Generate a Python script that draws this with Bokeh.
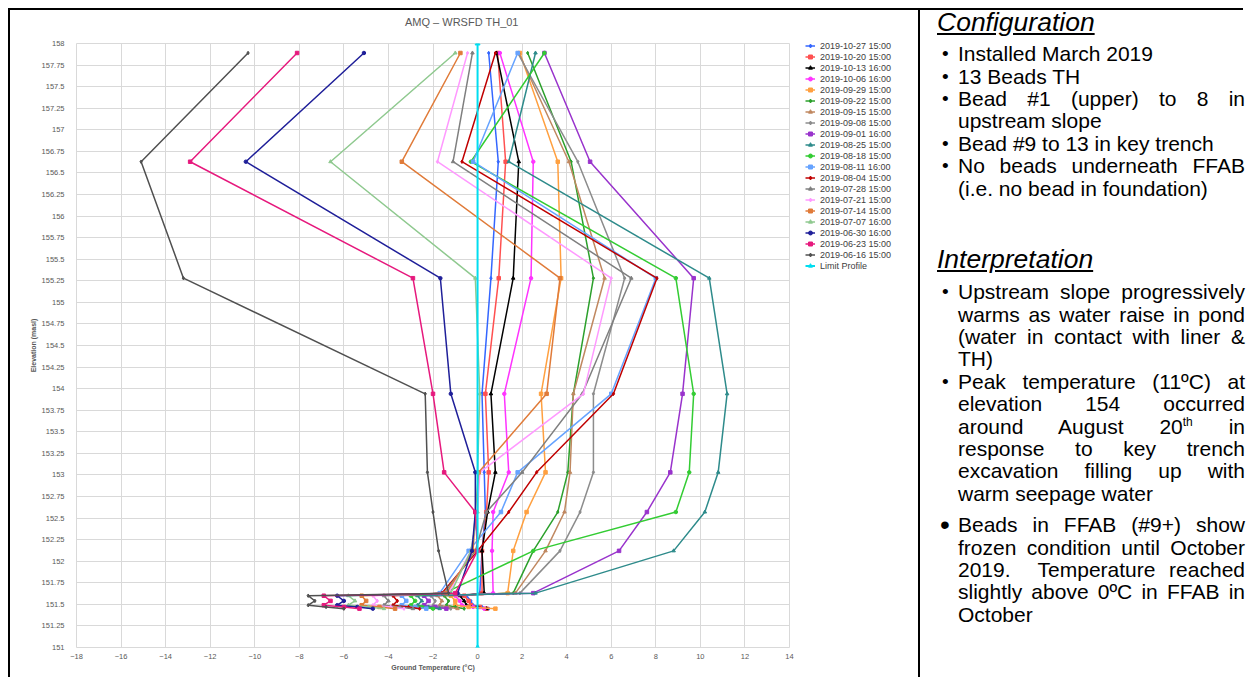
from bokeh.plotting import figure
from bokeh.models import Legend, LegendItem, FixedTicker, Div, Range1d
from bokeh.layouts import row, column
from bokeh.embed import file_html
from bokeh.resources import INLINE

# ---------------- data ----------------
chart_title = "AMQ \u2013 WRSFD TH_01"

# bead elevations (masl), bead #1 (upper) to #13
bead_elev = [157.89, 156.63, 155.28, 153.94, 153.03, 152.57, 152.12,
             151.63, 151.60, 151.54, 151.49, 151.47, 151.45]

series_labels = [
    "2019-10-27 15:00", "2019-10-20 15:00", "2019-10-13 16:00", "2019-10-06 16:00",
    "2019-09-29 15:00", "2019-09-22 15:00", "2019-09-15 15:00", "2019-09-08 15:00",
    "2019-09-01 16:00", "2019-08-25 15:00", "2019-08-18 15:00", "2019-08-11 16:00",
    "2019-08-04 15:00", "2019-07-28 15:00", "2019-07-21 15:00", "2019-07-14 15:00",
    "2019-07-07 16:00", "2019-06-30 16:00", "2019-06-23 15:00", "2019-06-16 15:00",
]

t_2019_10_27 = [0.5, 0.93, 0.6, 0.2, 0.3, 0.35, 0.2, 0.1, -0.5, -0.3, -0.2, 0.2, 0.5]
t_2019_10_20 = [0.9, 1.26, 0.95, 0.35, 0.5, 0.4, 0.2, 0.2, -0.6, -0.4, -0.3, 0.1, 0.4]
t_2019_10_13 = [0.85, 1.85, 1.6, 0.6, 0.8, 0.45, 0.2, 0.3, -0.8, -0.6, -0.5, 0.0, 0.4]
t_2019_10_06 = [1.0, 2.5, 2.4, 1.2, 1.4, 0.7, 0.65, 0.7, -1.0, -0.8, -0.7, -0.2, 0.3]
t_2019_09_29 = [1.9, 3.6, 3.75, 2.85, 3.05, 2.2, 1.6, 1.35, -1.2, -1.0, -1.0, -0.4, 0.8]
t_2019_09_22 = [2.25, 4.2, 5.2, 4.3, 4.05, 3.6, 2.5, 1.6, -1.5, -1.3, -1.4, -1.0, -0.6]
t_2019_09_15 = [1.85, 4.1, 5.7, 4.3, 4.15, 3.9, 3.05, 1.7, -1.8, -1.6, -1.7, -1.3, -0.9]
t_2019_09_08 = [1.8, 4.5, 6.6, 5.2, 5.2, 4.6, 3.7, 1.9, -2.1, -1.9, -2.0, -1.6, -1.2]
t_2019_09_01 = [3.0, 5.05, 9.7, 9.2, 8.65, 7.6, 6.35, 2.5, -2.4, -2.2, -2.4, -1.9, -1.4]
t_2019_08_25 = [2.6, 1.4, 10.4, 11.2, 10.8, 10.2, 8.8, 2.6, -2.7, -2.5, -2.7, -2.2, -1.7]
t_2019_08_18 = [3.0, -0.3, 8.9, 9.7, 9.5, 8.9, 2.5, -1.5, -3.0, -2.8, -3.0, -2.5, -2.0]
t_2019_08_11 = [1.8, -0.2, 8.0, 6.0, 1.8, 1.05, -0.4, -1.7, -3.4, -3.2, -3.4, -2.8, -2.3]
t_2019_08_04 = [0.8, -0.7, 8.05, 6.1, 2.65, 1.4, 0.0, -1.6, -3.8, -3.6, -3.8, -3.1, -2.6]
t_2019_07_28 = [-0.23, -1.1, 6.9, 4.7, 2.0, 0.4, -0.1, -1.5, -4.2, -4.0, -4.2, -3.5, -2.9]
t_2019_07_21 = [-0.45, -1.8, 6.0, 4.75, 0.1, 0.0, -0.3, -1.3, -4.7, -4.5, -4.7, -3.9, -3.3]
t_2019_07_14 = [-0.77, -3.4, 3.7, 3.1, 0.05, -0.1, -0.2, -1.4, -5.2, -5.0, -5.2, -4.4, -3.7]
t_2019_07_07 = [-1.0, -6.6, -0.1, 0.1, 0.0, 0.0, -0.3, -1.2, -5.8, -5.5, -5.8, -4.9, -4.2]
t_2019_06_30 = [-5.1, -10.4, -1.67, -1.2, -0.1, -0.1, -0.25, -0.9, -6.3, -6.0, -6.3, -5.4, -4.7]
t_2019_06_23 = [-8.1, -12.9, -2.9, -2.0, -1.5, -0.1, 0.0, -1.0, -6.9, -6.6, -6.9, -6.0, -5.3]
t_2019_06_16 = [-10.3, -15.1, -13.2, -2.35, -2.25, -2.0, -1.75, -1.3, -7.6, -7.3, -7.6, -6.8, -6.0]

series_values = [
    t_2019_10_27, t_2019_10_20, t_2019_10_13, t_2019_10_06, t_2019_09_29,
    t_2019_09_22, t_2019_09_15, t_2019_09_08, t_2019_09_01, t_2019_08_25,
    t_2019_08_18, t_2019_08_11, t_2019_08_04, t_2019_07_28, t_2019_07_21,
    t_2019_07_14, t_2019_07_07, t_2019_06_30, t_2019_06_23, t_2019_06_16,
]

limit_label = "Limit Profile"
limit_temp = [0, 0]
limit_elev = [158, 151]

x_ticks = list(range(-18, 15, 2))
y_ticks = [151 + 0.25 * i for i in range(29)]

# ---------------- styles ----------------
series_colors = [
    "#3366FF", "#FF5050", "#000000", "#FF33FF", "#FFA040",
    "#2CA02C", "#C08860", "#8C8C8C", "#9933CC", "#2E8B8B",
    "#33CC33", "#66A3FF", "#C00000", "#7F7F7F", "#FF99FF",
    "#E07B39", "#8FC98F", "#1F1F99", "#E6197D", "#505050",
]
markers = ["diamond", "square", "triangle", "circle", "square", "diamond", "triangle"]
limit_color = "#00DDF0"
FONT = "Liberation Sans"
TXT = "#595959"

p = figure(width=786, height=647, x_range=(-18, 14), y_range=(151, 158),
           title=None, output_backend="svg", toolbar_location=None,
           min_border_left=66, min_border_right=7, min_border_top=13,
           min_border_bottom=30)
p.background_fill_color = "white"
p.border_fill_color = "white"
p.outline_line_color = "#D9D9D9"

p.xaxis.ticker = FixedTicker(ticks=x_ticks)
p.yaxis.ticker = FixedTicker(ticks=y_ticks)
p.yaxis.major_label_overrides = {t: f"{t:g}" for t in y_ticks}
p.xgrid.ticker = FixedTicker(ticks=x_ticks)
p.ygrid.ticker = FixedTicker(ticks=y_ticks)
p.grid.grid_line_color = "#D9D9D9"
p.grid.grid_line_width = 1

for ax in (p.xaxis, p.yaxis):
    ax.axis_line_color = None
    ax.major_tick_line_color = None
    ax.minor_tick_line_color = None
    ax.major_label_text_font = FONT
    ax.major_label_text_font_size = "7.5px"
    ax.major_label_text_color = TXT
    ax.axis_label_text_font = FONT
    ax.axis_label_text_font_size = "7px"
    ax.axis_label_text_font_style = "bold"
    ax.axis_label_text_color = TXT
p.xaxis.major_label_standoff = 0
p.yaxis.major_label_standoff = 6
p.xaxis.axis_label = "Ground Temperature (\u00b0C)"
p.yaxis.axis_label = "Elevation (masl)"
p.xaxis.axis_label_standoff = 2
p.yaxis.axis_label_standoff = 2

# chart title, above the plot area
title_div = Div(text=(f'<div style="font-family:\'Liberation Sans\',Arial,sans-serif;'
                      f'font-size:11px;color:{TXT};padding-left:395px;padding-top:2px;'
                      f'height:20px;line-height:20px;white-space:nowrap;">{chart_title}</div>'),
                width=786, height=20, margin=0)

# legend lives in its own narrow figure to the right of the plot area
lg = figure(width=122, height=667, x_range=Range1d(0, 1), y_range=Range1d(0, 1),
            x_axis_type=None, y_axis_type=None, output_backend="svg",
            toolbar_location=None, min_border_left=0, min_border_right=0,
            min_border_top=21, min_border_bottom=0)
lg.outline_line_color = None
lg.background_fill_color = "white"
lg.border_fill_color = "white"
off = [-5, -4]  # legend-only renderers, kept outside the legend panel's view

items = []
for i, (lab, vals) in enumerate(zip(series_labels, series_values)):
    col = series_colors[i]
    mk = markers[i % len(markers)]
    p.line(vals, bead_elev, line_color=col, line_width=1.5)
    p.scatter(vals, bead_elev, marker=mk, size=3.5, line_color=col, fill_color=col)
    gl = lg.line(off, off, line_color=col, line_width=1.5)
    gs = lg.scatter(off, off, marker=mk, size=3.5, line_color=col, fill_color=col)
    items.append(LegendItem(label=lab, renderers=[gl, gs]))

p.line(limit_temp, limit_elev, line_color=limit_color, line_width=2)
p.scatter(limit_temp, limit_elev, marker="triangle", size=5,
          line_color=limit_color, fill_color=limit_color)
gl = lg.line(off, off, line_color=limit_color, line_width=2)
gs = lg.scatter(off, off, marker="triangle", size=5, line_color=limit_color,
                fill_color=limit_color)
items.append(LegendItem(label=limit_label, renderers=[gl, gs]))

legend = Legend(items=items, location="top_left", glyph_width=10, glyph_height=11,
                label_height=11, spacing=0, padding=6, margin=9, label_standoff=5,
                label_text_font=FONT, label_text_font_size="9px",
                label_text_color="#404040", border_line_color=None,
                background_fill_alpha=0)
lg.add_layout(legend, "center")

# ---------------- text panel ----------------
L = 22.4


def line(txt, justify=True):
    al = "justify" if justify else "left"
    return (f'<div style="height:{L}px;line-height:{L}px;white-space:nowrap;'
            f'text-align:{al};text-align-last:{al};">{txt}</div>')


def item(lines, margin_top=0, big=False):
    bsize = "28px" if big else "19px"
    html = (f'<div style="position:relative;box-sizing:border-box;padding-left:38px;'
            f'width:325px;margin-top:{margin_top}px;">')
    html += (f'<span style="position:absolute;left:{20 if big else 22}px;top:0;'
             f'height:{L}px;line-height:{L}px;font-size:{bsize};">&bull;</span>')
    for t, j in lines:
        html += line(t, j)
    html += '</div>'
    return html


head = ('<div style="padding-left:17px;font-size:26.5px;font-style:italic;'
        'text-decoration:underline;height:24px;line-height:24px;margin-top:{}px;">{}</div>')

html = ('<div style="font-family:\'Liberation Sans\',Arial,sans-serif;font-size:21px;'
        'color:#000;padding-top:0.5px;">')
html += head.format(-1, "Configuration")
html += item([("Installed March 2019", False)], margin_top=9.8)
html += item([("13 Beads TH", False)])
html += item([("Bead #1 (upper) to 8 in", True), ("upstream slope", False)])
html += item([("Bead #9 to 13 in key trench", False)])
html += item([("No beads underneath FFAB", True), ("(i.e. no bead in foundation)", False)])
html += head.format(47.4, "Interpretation")
html += item([("Upstream slope progressively", True), ("warms as water raise in pond", True),
              ("(water in contact with liner &amp;", True), ("TH)", False)], margin_top=9.8)
html += item([("Peak temperature (11\u00baC) at", True), ("elevation 154 occurred", True),
              ('around August 20<sup style="font-size:12px;line-height:0;">th</sup> in', True),
              ("response to key trench", True), ("excavation filling up with", True),
              ("warm seepage water", False)])
html += item([("Beads in FFAB (#9+) show", True), ("frozen condition until October", True),
              ("2019.&nbsp; Temperature reached", True), ("slightly above 0\u00baC in FFAB in", True),
              ("October", False)], margin_top=9, big=True)
html += '</div>'

text_div = Div(text=html, width=325, height=667, margin=0,
               styles={"border-left": "2px solid black", "box-sizing": "border-box"})
top_rule = Div(text="", width=1235, height=2, margin=0,
               styles={"background-color": "black"})
left_rule = Div(text="", width=2, height=667, margin=0,
                styles={"background-color": "black"})

chart_col = column(title_div, p)
layout = column(top_rule, row(left_rule, chart_col, lg, text_div), margin=(8, 0, 0, 8))

open("out.html", "w").write(file_html(layout, INLINE))
